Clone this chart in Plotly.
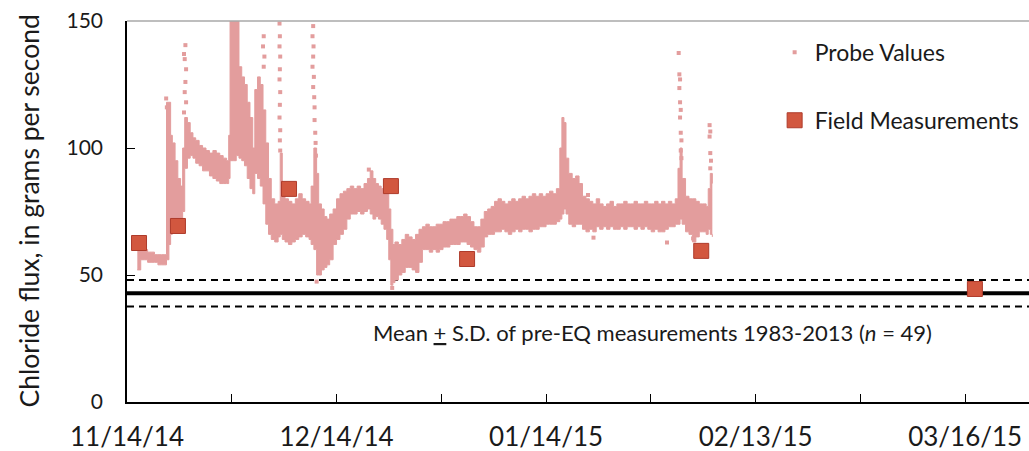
import plotly.graph_objects as go
import pandas as pd

# ---------------- data ----------------
start_date = "2014-11-14"

# Probe values: band envelope (days since 11/14/14, lower and upper edge of the dense band)
probe_day = [1.5, 2.0, 2.5, 3.0, 3.5, 4.0, 4.5, 5.0, 5.4, 5.75, 6.1, 6.35, 6.6, 7.0, 7.4, 7.8,
             8.1, 8.4, 8.8, 9.2, 9.6, 10.0, 10.5, 11.0, 11.5, 12.0, 12.5, 13.0, 13.5, 14.0, 14.5,
             14.8, 15.0, 15.5, 15.9, 16.3, 16.7, 17.1, 17.5, 17.9, 18.3, 18.6, 19.0, 19.4, 19.8,
             20.2, 20.6, 21.0, 21.5, 22.0, 22.3, 22.6, 23.0, 23.5, 24.0, 24.5, 25.0, 25.5, 26.0,
             26.5, 26.8, 27.2, 27.6, 27.9, 28.3, 28.7, 29.1, 29.5, 30.0, 30.5, 31.0, 31.5, 32.0,
             32.5, 33.0, 33.5, 34.0, 34.5, 35.0, 35.4, 35.8, 36.2, 36.6, 37.0, 37.4, 37.8, 38.1,
             38.4, 38.7, 39.0, 39.5, 40.0, 40.5, 41.0, 41.5, 42.0, 42.5, 43.0, 43.5, 44.0, 44.5,
             45.0, 45.5, 46.0, 46.5, 47.0, 47.5, 48.0, 48.5, 49.0, 49.5, 50.0, 50.5, 51.0, 51.5,
             52.0, 52.5, 53.0, 53.5, 54.0, 54.5, 55.0, 55.5, 56.0, 56.5, 57.0, 57.5, 58.0, 58.5,
             59.0, 59.5, 60.0, 60.5, 61.0, 61.5, 62.0, 62.5, 63.0, 63.3, 63.6, 63.9, 64.3, 64.8,
             65.3, 65.8, 66.3, 66.8, 67.3, 67.8, 68.3, 68.8, 69.3, 69.8, 70.3, 70.8, 71.3, 71.8,
             72.3, 72.8, 73.3, 73.8, 74.3, 74.8, 75.3, 75.8, 76.3, 76.8, 77.3, 77.8, 78.3, 78.8,
             79.3, 79.8, 80.2, 80.5, 80.8, 81.3, 81.8, 82.3, 82.8, 83.3, 83.8, 84.3, 84.6, 84.9,
             85.2]
probe_lo = [52, 56, 56, 55, 55, 55, 54, 54, 54, 56, 62, 66, 67, 67, 68, 68,
            75, 92, 96, 97, 96, 94, 93, 91, 91, 89, 88, 87, 86, 86, 86,
            88, 95, 95, 97, 96, 95, 93, 88, 84, 82, 90, 88, 85, 78,
            70, 66, 64, 63, 65, 66, 64, 63, 62, 63, 64, 65, 66, 65,
            64, 62, 60, 50, 50, 52, 53, 54, 56, 62, 64, 66, 68, 72,
            74, 74, 75, 74, 75, 76, 74, 72, 73, 72, 70, 68, 64, 56,
            46, 47, 48, 50, 51, 53, 53, 52, 51, 55, 60, 60, 59, 60,
            59, 60, 61, 61, 62, 62, 62, 63, 63, 62, 61, 60, 59, 61,
            65, 66, 66, 67, 67, 68, 67, 66, 67, 68, 67, 68, 68, 67,
            68, 68, 69, 69, 70, 70, 70, 71, 72, 74, 76, 74, 70, 69,
            70, 70, 68, 67, 68, 67, 69, 68, 69, 68, 69, 68, 68, 69,
            68, 69, 69, 68, 69, 68, 69, 68, 67, 68, 67, 67, 68, 69,
            69, 70, 70, 72, 70, 67, 66, 63, 65, 67, 67, 66, 68, 66,
            65]
probe_hi = [61, 61, 60, 59, 59, 58, 58, 58, 58, 118, 118, 105, 102, 95, 88, 85,
            100, 112, 110, 106, 104, 103, 101, 100, 99, 98, 99, 98, 97, 96, 95,
            105, 155, 155, 150, 132, 128, 125, 118, 112, 100, 123, 128, 125, 115,
            102, 88, 80, 78, 79, 98, 82, 80, 79, 78, 80, 82, 80, 79,
            78, 85, 100, 90, 78, 76, 73, 72, 74, 76, 80, 82, 83, 84,
            85, 84, 85, 84, 86, 88, 91, 88, 86, 85, 84, 85, 82, 76,
            68, 62, 63, 62, 64, 66, 65, 64, 66, 68, 69, 70, 69, 69,
            70, 70, 71, 71, 72, 72, 73, 73, 74, 73, 71, 69, 69, 72,
            75, 76, 77, 79, 80, 79, 78, 79, 80, 79, 80, 81, 80, 81,
            82, 81, 82, 81, 82, 83, 82, 84, 100, 112, 110, 96, 90, 88,
            89, 86, 81, 80, 79, 78, 80, 78, 77, 78, 79, 77, 78, 78,
            79, 78, 78, 79, 78, 78, 79, 78, 78, 79, 78, 79, 78, 79,
            78, 80, 92, 100, 88, 81, 80, 80, 79, 78, 78, 77, 84, 90,
            86]

# Probe values: scattered individual readings outside the dense band (days, value)
spike_day = [5.7, 5.8, 8.5, 8.3, 8.4, 8.6, 8.5, 8.4, 8.6, 8.3,
             19.9, 19.8, 20.0, 19.9,
             22.2, 22.25, 22.2, 22.3, 22.25, 22.2, 22.3, 22.25, 22.2, 22.3, 22.25, 22.3,
             27.0, 27.1, 27.0, 27.15, 27.1, 27.0, 27.2, 27.1, 27.25, 27.3, 27.3, 27.4, 27.45, 27.5, 27.6,
             38.6, 35.2, 67.1, 67.9, 78.6, 82.4,
             80.3, 80.4, 80.5, 80.4, 80.5, 80.6, 80.5, 80.6, 80.7, 80.6, 80.7,
             84.8, 84.9, 84.8, 84.9, 85.0, 84.9]
spike_val = [119.5, 116, 140.5, 137, 135, 131, 126, 122, 118, 114,
             144, 140, 136, 132,
             149, 144, 140, 136, 131, 127, 122, 117, 112, 107, 103, 99,
             152, 148, 144, 140, 136, 132, 128, 124, 120, 116, 111, 106, 102, 97, 47.4,
             44.9, 91.5, 81.5, 64.7, 62.8, 64.4,
             137.4, 129, 127, 123.6, 118, 115, 112, 106, 103, 99, 96,
             109, 106.5, 104.5, 98, 95, 92]

# Field measurements
field_dates = ["2014-11-15 18:00", "2014-11-21 10:00", "2014-12-07 14:00", "2014-12-22 10:00",
               "2015-01-02 12:00", "2015-02-05 14:00", "2015-03-17 10:00"]
field_vals = [62.6, 69.3, 83.9, 85.0, 56.3, 59.5, 44.5]

# Pre-earthquake statistics
pre_eq_mean = 42.8
pre_eq_sd = 5.2

# Axis ticks
tick_dates = ["2014-11-14 00:00", "2014-11-29 06:00", "2014-12-14 12:00", "2014-12-29 18:00",
              "2015-01-14 00:00", "2015-01-29 06:00", "2015-02-13 12:00", "2015-02-28 18:00",
              "2015-03-16 00:00"]
tick_labels = ["11/14/14", "", "12/14/14", "", "01/14/15", "", "02/13/15", "", "03/16/15"]
x_range = ["2014-11-14 00:00", "2015-03-25 07:00"]
y_ticks = [0, 50, 100, 150]

# ---------------- figure ----------------
FONT = "Lato"
probe_color = "rgb(227,157,157)"
field_fill = "#D2573F"
field_edge = "#AE3B2B"

start = pd.Timestamp(start_date)
probe_x = start + pd.to_timedelta(probe_day, unit="D")
spike_x = start + pd.to_timedelta(spike_day, unit="D")

fig = go.Figure()
fig.add_trace(go.Scatter(x=probe_x, y=probe_lo, mode="lines",
                         line=dict(width=1, color=probe_color, shape="hv"),
                         showlegend=False, hoverinfo="skip"))
fig.add_trace(go.Scatter(x=probe_x, y=probe_hi, mode="lines", fill="tonexty",
                         fillcolor=probe_color, line=dict(width=1, color=probe_color, shape="hv"),
                         showlegend=False, hoverinfo="skip"))
fig.add_trace(go.Scatter(x=spike_x, y=spike_val, mode="markers", name="Probe Values",
                         legendgroup="probe", legendrank=1,
                         marker=dict(symbol="square", size=4, color=probe_color)))
fig.add_trace(go.Scatter(x=field_dates, y=field_vals, mode="markers",
                         name="Field Measurements", legendgroup="field", legendrank=2,
                         marker=dict(symbol="square", size=15, color=field_fill,
                                     line=dict(color=field_edge, width=1))))

shapes = [
    dict(type="line", xref="paper", x0=0, x1=1, yref="y", y0=pre_eq_mean, y1=pre_eq_mean,
         line=dict(color="black", width=4), layer="below"),
    dict(type="line", xref="paper", x0=0, x1=1, yref="y",
         y0=pre_eq_mean + pre_eq_sd, y1=pre_eq_mean + pre_eq_sd,
         line=dict(color="black", width=2, dash="7px,5px"), layer="below"),
    dict(type="line", xref="paper", x0=0, x1=1, yref="y",
         y0=pre_eq_mean - pre_eq_sd, y1=pre_eq_mean - pre_eq_sd,
         line=dict(color="black", width=2, dash="7px,5px"), layer="below"),
    dict(type="line", xref="paper", x0=0, x1=1, yref="paper", y0=1, y1=1,
         line=dict(color="#A8A8A8", width=1.5), layer="above"),
]

fig.update_layout(
    width=1029, height=451,
    margin=dict(l=127, r=0, t=21, b=49),
    paper_bgcolor="white", plot_bgcolor="white",
    font=dict(family=FONT, color="#1a1a1a", size=21),
    shapes=shapes,
    showlegend=True,
    legend=dict(x=0.718, y=0.974, xanchor="left", yanchor="top",
                font=dict(family=FONT, size=23, color="#1a1a1a"),
                bgcolor="rgba(0,0,0,0)", tracegroupgap=35, traceorder="grouped",
                itemsizing="trace"),
    annotations=[
        dict(text="Mean <u>+</u> S.D. of pre-EQ measurements 1983-2013 (<i>n</i> = 49)",
             xref="paper", x=0.583, yref="y", y=27.2, showarrow=False,
             xanchor="center", yanchor="middle",
             font=dict(family=FONT, size=22, color="#1a1a1a")),
        dict(text="Chloride flux, in grams per second", textangle=-90,
             xref="paper", x=0, xshift=-99, yref="paper", y=0.5, showarrow=False,
             xanchor="center", yanchor="middle",
             font=dict(family=FONT, size=26.5, color="#1a1a1a")),
    ],
)

fig.update_xaxes(type="date", range=x_range, tickmode="array",
                 tickvals=tick_dates, ticktext=tick_labels,
                 ticks="inside", ticklen=8, tickwidth=1, tickcolor="black",
                 showline=True, linecolor="black", linewidth=2,
                 showgrid=False, zeroline=False,
                 tickfont=dict(family=FONT, size=26, color="#1a1a1a"),
                 ticklabelstandoff=11)
fig.update_yaxes(range=[0, 150], tickmode="array", tickvals=y_ticks,
                 ticks="inside", ticklen=8, tickwidth=1, tickcolor="black",
                 showline=True, linecolor="black", linewidth=1.5,
                 showgrid=False, zeroline=False,
                 tickfont=dict(family=FONT, size=21, color="#1a1a1a"),
                 ticklabelstandoff=18)

fig.write_html("out.html")
